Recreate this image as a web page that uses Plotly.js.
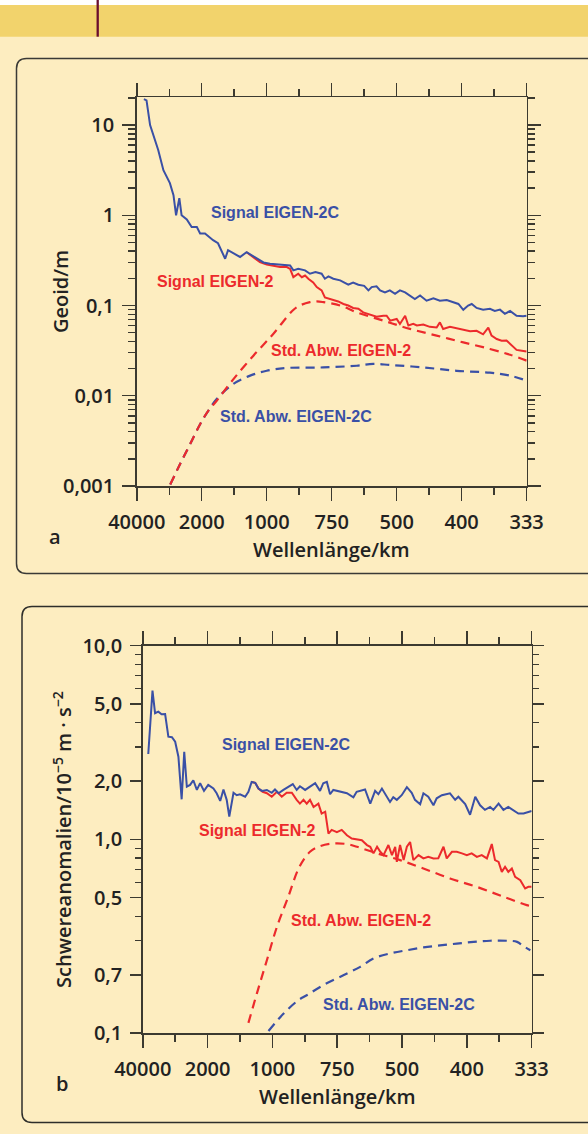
<!DOCTYPE html>
<html>
<head>
<meta charset="utf-8">
<script src="https://cdn.plot.ly/plotly-3.0.1.min.js"></script>
<style>
html,body{margin:0;padding:0;background:#FDEDC0;}
#chart{width:588px;height:1134px;}
</style>
</head>
<body>
<div id="chart"></div>
<script>
// ---------- data (x = spherical-harmonic degree, labelled by wavelength) ----------
const tickDegrees = [0, 20, 40, 60, 80, 100, 120];
const tickWavelengths = ['40000', '2000', '1000', '750', '500', '400', '333'];

const tickValsA = [0.001, 0.01, 0.1, 1, 10];
const tickTextA = ['0,001', '0,01', '0,1', '1', '10'];
const tickValsB = [0.1, 0.2, 0.5, 1, 2, 5, 10];
const tickTextB = ['0,1', '0,7', '0,5', '1,0', '2,0', '5,0', '10,0'];

// Panel a: Geoid
const aSig2C_n = [2.2,3,4.1,5.3,6.6,8.2,10.2,11.3,12.1,13.1,13.8,15.4,16.9,18.5,19.5,21,23.5,25,26.2,27.2,28.1,29.6,31.8,33.8,35.4,36.9,39,41,43,45,47.2,48.2,49.7,51.8,53.3,55,56.9,57.9,59,60.5,62.6,65.1,66.6,68.2,70,71.3,72.3,73.8,74.9,76.4,77.9,79.5,81,82.6,84.1,85.6,87.2,89.2,91.3,93.3,95.4,97.4,99,100.5,102,103.1,104.6,106.6,108.7,110.2,111.8,113.3,114.9,116.9,118.9,120];
const aSig2C_v = [19.4,18.8,10,7.2,5.3,3.16,2.27,1.67,1.0,1.55,1.0,0.9,0.74,0.74,0.63,0.63,0.53,0.49,0.39,0.33,0.41,0.38,0.345,0.39,0.36,0.33,0.30,0.29,0.285,0.28,0.278,0.245,0.255,0.245,0.225,0.235,0.225,0.198,0.21,0.198,0.19,0.17,0.18,0.17,0.165,0.147,0.16,0.163,0.147,0.14,0.147,0.135,0.147,0.14,0.129,0.118,0.129,0.113,0.12,0.113,0.115,0.108,0.104,0.0895,0.1,0.104,0.094,0.09,0.092,0.087,0.09,0.081,0.087,0.077,0.076,0.077];

const aSig2_n = [33.8,35.9,37.9,40,42,44.1,46.2,47.2,48.2,49.7,50.8,51.8,52.8,54.3,55.4,56.9,57.9,59,60.5,62,63.6,65.1,66.6,68.2,69.7,71.8,73.8,75.9,76.9,78,80,81,82.6,83.6,85.1,86.2,88.2,90.2,92.3,93.3,94.3,96.4,98.4,100.5,102.6,104.6,106.6,108.2,109.2,110.8,112.3,113.8,114.9,116.9,118.5,120];
const aSig2_v = [0.39,0.345,0.303,0.285,0.278,0.267,0.267,0.255,0.206,0.225,0.206,0.215,0.198,0.18,0.16,0.147,0.123,0.12,0.115,0.111,0.104,0.1,0.094,0.092,0.084,0.079,0.075,0.077,0.077,0.068,0.071,0.0625,0.077,0.06,0.0625,0.06,0.0615,0.058,0.057,0.065,0.055,0.058,0.056,0.055,0.052,0.0525,0.048,0.057,0.0464,0.0425,0.0408,0.041,0.0375,0.0322,0.0316,0.031];

const aStd2_n = [10.3,13.3,16.4,19.5,22,24.6,29.7,35.9,42,48,50.2,53.3,55.4,57.4,62.6,67.7,75.9,84.1,92.3,100.5,108.7,114.9,120];
const aStd2_v = [0.00104,0.00174,0.0029,0.00484,0.0068,0.0088,0.0152,0.0278,0.0484,0.088,0.1,0.109,0.111,0.109,0.1,0.084,0.068,0.055,0.0464,0.039,0.033,0.0285,0.0245];

const aStd2C_n = [10.3,13.3,16.4,19.5,22,24.6,29.7,34.9,40,46.2,57.4,67.7,72.8,78,88.2,98.5,108.7,114.9,120];
const aStd2C_v = [0.00104,0.00174,0.0029,0.00484,0.0068,0.0092,0.0135,0.0167,0.0189,0.0203,0.0206,0.0215,0.0225,0.0219,0.0206,0.0189,0.018,0.0167,0.0147];

// Panel b: Schwereanomalien
const bSig2C_n = [1.7,3,3.8,4.8,5.8,6.9,7.9,9,10,11,12,12.8,13.6,14.6,15.6,16.7,17.7,18.9,20.2,21.8,22.8,23.9,24.9,25.9,26.7,28,29,30,31.6,32.6,33.6,34.7,35.7,36.8,38.3,39.8,40.8,41.9,43.4,44.9,46.3,47.5,48.5,50.1,51.6,53.2,54.7,55.7,56.8,57.8,58.8,60.9,63,65,66,68.6,70.2,71.7,72.7,73.8,75.3,76.3,77.3,78.4,79.9,81.5,83,84,85.6,86.6,88.1,89.7,90.7,92.3,94.8,96.4,97.4,99.5,101,102.6,104.1,105.6,107.2,108.2,109.8,111.3,112.8,115.9,117.5,119,120];
const bSig2C_v = [2.76,5.86,4.48,4.56,4.42,4.43,3.39,3.37,3.19,2.67,1.61,2.83,1.87,1.91,2.02,1.8,1.95,1.78,1.91,1.83,1.73,1.58,1.81,1.6,1.31,1.74,1.69,1.71,1.66,1.76,1.98,1.96,1.83,1.78,1.8,1.74,1.81,1.73,1.8,1.87,1.93,1.8,1.88,1.8,1.88,1.95,1.78,1.95,1.98,1.71,1.8,1.76,1.73,1.65,1.76,1.81,1.53,1.78,1.71,1.83,1.66,1.56,1.65,1.6,1.69,1.86,1.74,1.6,1.52,1.73,1.66,1.5,1.63,1.69,1.73,1.6,1.66,1.52,1.34,1.66,1.5,1.42,1.47,1.42,1.53,1.42,1.47,1.36,1.36,1.39,1.40];

const bSig2_n = [33.6,34.7,35.7,37,38.3,39.8,41.4,42.9,44.4,46,47.5,48.5,49.6,50.6,51.6,52.7,54.2,55.2,56.3,57.3,58.3,59.9,61.4,63,64.5,66.1,67.6,69.2,70.2,71.2,72.3,73.3,74.3,75.8,76.9,77.9,78.4,79.4,80.5,81.5,82.5,83.5,85.1,86.6,88.1,89.7,91.2,92.8,93.8,95.4,96.9,98.5,100,101.5,103.1,104.6,106.2,107.7,108.7,109.8,110.8,111.8,112.8,113.9,114.9,116.5,118,119,120];
const bSig2_v = [1.98,1.96,1.83,1.76,1.73,1.66,1.76,1.66,1.74,1.74,1.6,1.53,1.6,1.53,1.6,1.47,1.53,1.36,1.39,1.07,1.12,1.09,1.12,1.05,1.01,1.0,0.99,0.935,0.916,0.847,0.916,0.863,0.83,0.935,0.83,0.916,0.766,0.935,0.782,0.916,0.97,0.782,0.83,0.798,0.813,0.798,0.8,0.916,0.798,0.863,0.863,0.847,0.83,0.847,0.813,0.83,0.798,0.946,0.782,0.766,0.68,0.722,0.68,0.708,0.641,0.616,0.558,0.569,0.569];

const bStd2_n = [32.6,35.2,38.3,41.4,44.9,48.3,51.6,54.7,58.8,63,66.1,72.3,79.4,86.6,94.8,103.1,111.3,118.5,120];
const bStd2_v = [0.113,0.16,0.238,0.354,0.506,0.72,0.863,0.923,0.953,0.946,0.916,0.847,0.782,0.708,0.629,0.569,0.506,0.458,0.452];

const bStd2C_n = [38.8,43.4,48,50.6,55.7,61.9,67.1,71.2,76.3,81.5,86.6,91.7,96.9,102.1,107.2,112.4,115.5,117.5,119.6];
const bStd2C_v = [0.1026,0.126,0.148,0.157,0.177,0.199,0.22,0.243,0.258,0.268,0.277,0.284,0.29,0.296,0.3,0.3,0.296,0.281,0.268];

// ---------- styling ----------
const W = 588, H = 1134;
const X = px => px / W;
const Y = py => 1 - py / H;
const BLUE = '#3a50a6', RED = '#ec2a2c', AXC = '#3c3a30', TXT = '#222222';
const BG = '#FDEDC0';
const DASH = '9px,6px';

function minorLog(lo, hi) {
  const out = [];
  for (let e = lo; e <= hi; e++) {
    for (let m = 2; m <= 9; m++) out.push(m * Math.pow(10, e));
  }
  return out;
}

const tickFont = {family: 'Open Sans', size: 20, color: TXT, weight: 600};

function xAxis(domain, anchor) {
  return {
    domain: domain, anchor: anchor, range: [-0.02, 120.02], type: 'linear',
    showline: true, linecolor: AXC, linewidth: 1.5, mirror: 'ticks',
    ticks: 'outside', ticklen: 13, tickwidth: 1.5, tickcolor: AXC,
    tickmode: 'array', tickvals: tickDegrees, ticktext: tickWavelengths,
    minor: {tickmode: 'array', tickvals: [10, 30, 50, 70, 90, 110], ticks: 'outside', ticklen: 7, tickwidth: 1.5, tickcolor: AXC, showgrid: false},
    showgrid: false, zeroline: false, automargin: false, fixedrange: true,
    tickfont: tickFont, ticklabelstandoff: 4
  };
}
function yAxis(domain, anchor, range, tv, tt, minorVals, tlen, mlen) {
  return {
    domain: domain, anchor: anchor, type: 'log', range: range,
    showline: true, linecolor: AXC, linewidth: 1.5, mirror: 'ticks',
    ticks: 'outside', ticklen: tlen, tickwidth: 1.5, tickcolor: AXC,
    tickmode: 'array', tickvals: tv, ticktext: tt,
    minor: {tickmode: 'array', tickvals: minorVals, ticks: 'outside', ticklen: mlen, tickwidth: 1.5, tickcolor: AXC, showgrid: false},
    showgrid: false, zeroline: false, automargin: false, fixedrange: true,
    tickfont: tickFont, ticklabelstandoff: 4
  };
}

function line(x, y, color, dash, xa, ya) {
  return {
    x: x, y: y, type: 'scatter', mode: 'lines', xaxis: xa, yaxis: ya,
    line: {color: color, width: dash === 'solid' ? 2 : 2.2, dash: dash, shape: dash === 'solid' ? 'linear' : 'spline'},
    hoverinfo: 'skip', showlegend: false
  };
}

const traces = [
  line(aStd2C_n, aStd2C_v, BLUE, DASH, 'x', 'y'),
  line(aStd2_n, aStd2_v, RED, DASH, 'x', 'y'),
  line(aSig2_n, aSig2_v, RED, 'solid', 'x', 'y'),
  line(aSig2C_n, aSig2C_v, BLUE, 'solid', 'x', 'y'),
  line(bStd2C_n, bStd2C_v, BLUE, DASH, 'x2', 'y2'),
  line(bStd2_n, bStd2_v, RED, DASH, 'x2', 'y2'),
  line(bSig2_n, bSig2_v, RED, 'solid', 'x2', 'y2'),
  line(bSig2C_n, bSig2C_v, BLUE, 'solid', 'x2', 'y2')
];

function roundRect(x0, y0, x1, y1, r) {
  const rx = r / W, ry = r / H;
  const a = X(x0), b = X(x1), t = Y(y0), btm = Y(y1);
  return `M ${a + rx},${t} L ${b - rx},${t} Q ${b},${t} ${b},${t - ry} L ${b},${btm + ry} Q ${b},${btm} ${b - rx},${btm} L ${a + rx},${btm} Q ${a},${btm} ${a},${btm + ry} L ${a},${t - ry} Q ${a},${t} ${a + rx},${t} Z`;
}

const shapes = [
  {type: 'rect', xref: 'paper', yref: 'paper', x0: 0, x1: 1, y0: Y(0), y1: Y(5), fillcolor: '#ffffff', line: {width: 0}, layer: 'below'},
  {type: 'rect', xref: 'paper', yref: 'paper', x0: 0, x1: 1, y0: Y(5), y1: Y(36.7), fillcolor: '#F2D36C', line: {width: 0}, layer: 'below'},
  {type: 'line', xref: 'paper', yref: 'paper', x0: X(97.7), x1: X(97.7), y0: Y(0), y1: Y(36.7), line: {color: '#6A0D2E', width: 2.3}, layer: 'below'},
  {type: 'path', xref: 'paper', yref: 'paper', path: roundRect(16.5, 58.5, 604, 573.5, 10), line: {color: '#3a3a36', width: 1.5}, fillcolor: 'rgba(0,0,0,0)', layer: 'below'},
  {type: 'path', xref: 'paper', yref: 'paper', path: roundRect(22, 606.5, 604, 1122.5, 10), line: {color: '#2e2e2a', width: 1.5}, fillcolor: 'rgba(0,0,0,0)', layer: 'below'}
];

const lblFont = (c) => ({family: 'Liberation Sans, Arial, sans-serif', size: 16, color: c, weight: 700});
const axFont = {family: 'Open Sans', size: 20, color: TXT, weight: 600};

function ann(text, x, y, font, opts) {
  return Object.assign({text: text, xref: 'paper', yref: 'paper', x: X(x), y: Y(y), showarrow: false, font: font, xanchor: 'left', yanchor: 'middle'}, opts || {});
}

const annotations = [
  ann('Signal EIGEN-2C', 209, 213, lblFont(BLUE)),
  ann('Signal EIGEN-2', 155, 282, lblFont(RED)),
  ann('Std. Abw. EIGEN-2', 269, 350, lblFont(RED)),
  ann('Std. Abw. EIGEN-2C', 218, 417, lblFont(BLUE)),
  ann('Signal EIGEN-2C', 220, 744, lblFont(BLUE)),
  ann('Signal EIGEN-2', 197, 830, lblFont(RED)),
  ann('Std. Abw. EIGEN-2', 289, 920, lblFont(RED)),
  ann('Std. Abw. EIGEN-2C', 321, 1004, lblFont(BLUE)),
  ann('Wellenlänge/km', 331, 549, axFont, {xanchor: 'center'}),
  ann('Wellenlänge/km', 337, 1096, axFont, {xanchor: 'center'}),
  ann('Geoid/m', 60, 292, axFont, {xanchor: 'center', textangle: -90}),
  ann('Schwereanomalien/10<sup>−5</sup> m · s<sup>−2</sup>', 62, 840, axFont, {xanchor: 'center', textangle: -90}),
  ann('a', 55, 537, {family: 'Open Sans', size: 20, color: TXT, weight: 600}, {xanchor: 'center'}),
  ann('b', 62, 1083, {family: 'Open Sans', size: 20, color: TXT, weight: 600}, {xanchor: 'center'})
];

const layout = {
  width: W, height: H,
  margin: {l: 0, r: 0, t: 0, b: 0},
  paper_bgcolor: BG, plot_bgcolor: 'rgba(0,0,0,0)',
  showlegend: false,
  xaxis: xAxis([X(136.7), X(526.7)], 'y'),
  yaxis: yAxis([Y(486), Y(97)], 'x', [-3.0005, 1.311], tickValsA, tickTextA, minorLog(-3, 1), 13, 7),
  xaxis2: xAxis([X(142.7), X(531.7)], 'y2'),
  yaxis2: yAxis([Y(1033.3), Y(645.5)], 'x2', [-1.0005, 1.0005], tickValsB, tickTextB, [0.3,0.4,0.6,0.7,0.8,0.9,3,4,6,7,8,9], 11, 6),
  shapes: shapes,
  annotations: annotations
};

Plotly.newPlot('chart', traces, layout, {staticPlot: true, displayModeBar: false});
</script>
</body>
</html>
